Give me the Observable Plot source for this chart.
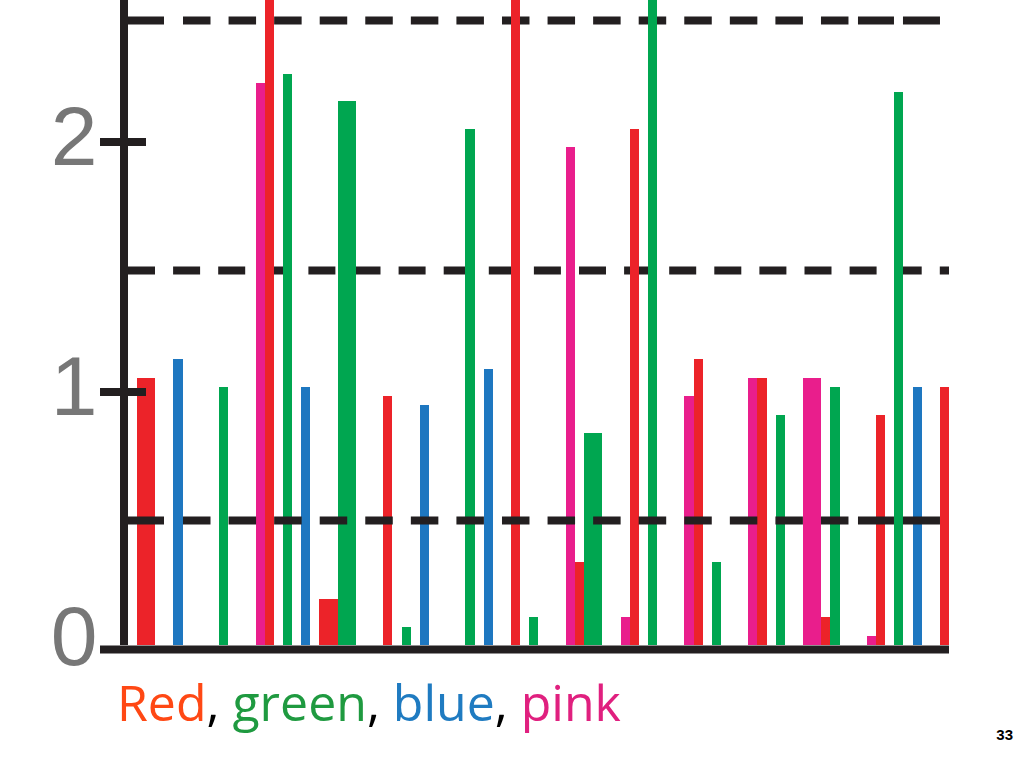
<!DOCTYPE html>
<html>
<head>
<meta charset="utf-8">
<script src="https://cdn.jsdelivr.net/npm/d3@7"></script>
<script src="https://cdn.jsdelivr.net/npm/@observablehq/plot@0.6"></script>
<style>
  html, body { margin: 0; padding: 0; background: #fff; width: 1024px; height: 768px; overflow: hidden; position: relative; }
  #chart { position: absolute; left: 0; top: 0; }
  #caption { position: absolute; left: 117px; top: 677px; font: 50px/1 "Comic Sans MS", "Open Sans", sans-serif; white-space: nowrap; }
  #page { position: absolute; right: 11px; top: 727px; font: bold 15px/1 "Liberation Sans", Arial, sans-serif; color: #000; }
</style>
</head>
<body>
<div id="chart"></div>
<div id="caption"><span style="color:#ff4814">Red</span><span style="color:#000">, </span><span style="color:#1f9a40">green</span><span style="color:#000">, </span><span style="color:#1f7bc1">blue</span><span style="color:#000">, </span><span style="color:#e0207f">pink</span></div>
<div id="page">33</div>
<script>
// Series: slot positions along the x axis and bar heights
const series = ["Red", "Green", "Blue", "Pink"];
const redSlots   = [0, 1, 14, 20, 21, 27, 41, 48, 54, 61, 68, 75, 81, 88];
const redValues  = [1.068, 1.068, 2.7, 0.184, 0.184, 0.996, 2.7, 0.332, 2.064, 1.144, 1.068, 0.112, 0.92, 1.032];
const greenSlots  = [9, 16, 22, 23, 29, 36, 43, 49, 50, 56, 63, 70, 76, 83];
const greenValues = [1.032, 2.284, 2.176, 2.176, 0.072, 2.064, 0.112, 0.848, 0.848, 2.7, 0.332, 0.92, 1.032, 2.212];
const blueSlots  = [4, 18, 31, 38, 85];
const blueValues = [1.144, 1.032, 0.96, 1.104, 1.032];
const pinkSlots  = [13, 47, 53, 60, 67, 73, 74, 80];
const pinkValues = [2.248, 1.992, 0.112, 0.996, 1.068, 1.068, 1.068, 0.036];
const slotCount = 89;
const yTicks = [0, 1, 2];
const yTickMarks = [1, 2];
const dashedLevels = [0.5, 2.5];
const dashedMid = [1.5];

const bars = [
  ...redSlots.map((s, i) => ({slot: s, value: redValues[i], series: series[0]})),
  ...greenSlots.map((s, i) => ({slot: s, value: greenValues[i], series: series[1]})),
  ...blueSlots.map((s, i) => ({slot: s, value: blueValues[i], series: series[2]})),
  ...pinkSlots.map((s, i) => ({slot: s, value: pinkValues[i], series: series[3]}))
];

const ink = "#231f20";
const longDash = "36 19 " + Array(14).fill("27.5 18.07").join(" ") + " 27.5 9.5 36 9 37 300";

const chart = Plot.plot({
  width: 1024,
  height: 710,
  marginLeft: 137,
  marginRight: 75,
  marginTop: 0,
  marginBottom: 65,
  x: {domain: [0, slotCount], axis: null},
  y: {domain: [0, 2.58]},
  color: {type: "ordinal", domain: series, range: ["#ec2329", "#00a650", "#1e77c0", "#e91e8c"]},
  marks: [
    Plot.ruleY(dashedMid, {stroke: ink, strokeWidth: 8, strokeDasharray: "27 18.1", insetLeft: -9}),
    Plot.ruleY([dashedLevels[1]], {stroke: ink, strokeWidth: 8, strokeDasharray: longDash, insetLeft: -9, insetRight: 9}),
    Plot.rectY(bars, {x1: "slot", x2: d => d.slot + 1, y: "value", fill: {value: "series", scale: "color"}, shapeRendering: "crispEdges", clip: true}),
    Plot.ruleY([dashedLevels[0]], {stroke: ink, strokeWidth: 8, strokeDasharray: longDash, insetLeft: -9, insetRight: 9}),
    Plot.ruleX([0], {stroke: ink, strokeWidth: 8, dx: -13.5}),
    Plot.ruleY([0], {stroke: ink, strokeWidth: 8, dy: 4, insetLeft: -37}),
    Plot.axisY({ticks: yTickMarks, tickSize: 46, dx: 9, dy: -3.5, stroke: ink, strokeWidth: 8, tickFormat: () => "", label: null}),
    Plot.axisY({ticks: yTicks, tickSize: 0, tickPadding: 40, dy: -7, tickFormat: d => String(d), fontSize: 84, fontFamily: "Liberation Sans Narrow, Liberation Sans, sans-serif", fill: "#777", label: null})
  ]
});
document.getElementById("chart").appendChild(chart);
</script>
</body>
</html>
